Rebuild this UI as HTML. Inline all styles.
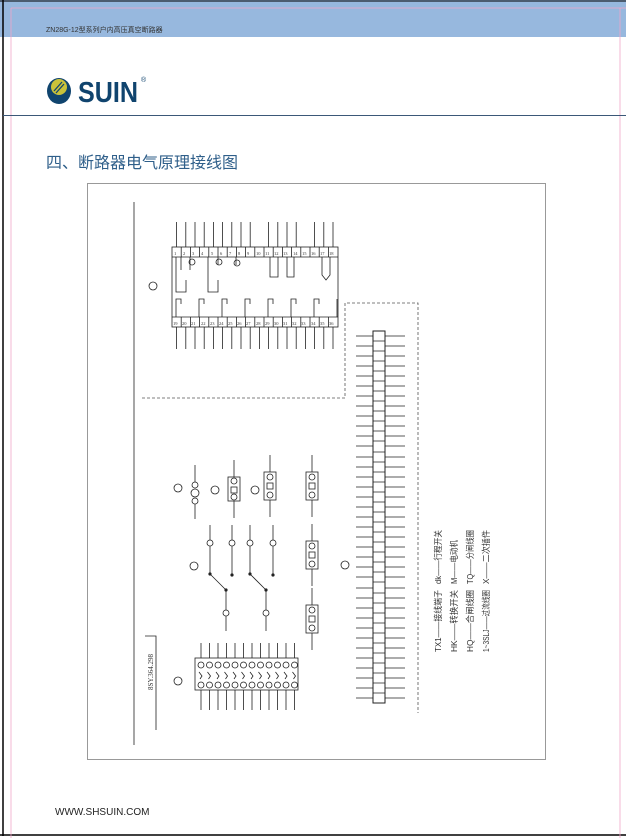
<!DOCTYPE html>
<html><head><meta charset="utf-8"><style>
html,body{margin:0;padding:0;background:#fff;}
body{width:626px;height:838px;position:relative;overflow:hidden;font-family:"Liberation Sans","Noto Sans CJK SC",sans-serif;}
</style></head><body>
<svg width="626" height="838" viewBox="0 0 626 838" xmlns="http://www.w3.org/2000/svg" style="position:absolute;left:0;top:0">
<rect x="0" y="0" width="626" height="37" fill="#97b8de"/>
<line x1="3" y1="0" x2="3" y2="836" stroke="#000" stroke-width="1.5"/>
<line x1="0" y1="835" x2="626" y2="835" stroke="#000" stroke-width="1.5"/>
<line x1="0" y1="1" x2="626" y2="1" stroke="#000" stroke-width="1"/>
<line x1="11" y1="8" x2="11" y2="838" stroke="#f0a6c8" stroke-width="0.8"/>
<line x1="620" y1="8" x2="620" y2="838" stroke="#f0a6c8" stroke-width="0.8"/>
<line x1="11" y1="8" x2="626" y2="8" stroke="#f0a6c8" stroke-width="0.8"/>
<text x="46" y="32" font-size="7" fill="#333">ZN28G-12型系列户内高压真空断路器</text>
<line x1="3" y1="115.5" x2="626" y2="115.5" stroke="#3b5878" stroke-width="1"/>
<!-- logo -->
<ellipse cx="59" cy="91" rx="12" ry="13" fill="#10446e"/>
<ellipse cx="59" cy="87" rx="8" ry="8" fill="#c9c23a"/>
<path d="M54 91 L62 82 M56 93 L64 84" stroke="#10446e" stroke-width="1.3"/>
<text x="78" y="102" font-size="29" font-weight="bold" fill="#10446e" textLength="60" lengthAdjust="spacingAndGlyphs" font-family="Liberation Sans, sans-serif">SUIN</text>
<text x="141" y="82" font-size="7" fill="#10446e">®</text>
<text x="46" y="168" font-size="16" fill="#2f5f8a">四、断路器电气原理接线图</text>
<rect x="87.5" y="183.5" width="458" height="576" fill="none" stroke="#999" stroke-width="1"/>
<g stroke="#222" fill="none" stroke-width="0.8">
<line x1="134" y1="202" x2="134" y2="745"/>
<polyline points="145,636 156,636 156,730"/>
<rect x="172" y="247" width="166" height="80"/>
<line x1="172" y1="257" x2="338" y2="257"/>
<line x1="172" y1="317" x2="338" y2="317"/>
<path d="M181.2 247v10M190.4 247v10M199.6 247v10M208.8 247v10M218 247v10M227.2 247v10M236.4 247v10M245.6 247v10M254.8 247v10M264 247v10M273.2 247v10M282.4 247v10M291.6 247v10M300.8 247v10M310 247v10M319.2 247v10M328.4 247v10"/>
<path d="M181.2 317v10M190.4 317v10M199.6 317v10M208.8 317v10M218 317v10M227.2 317v10M236.4 317v10M245.6 317v10M254.8 317v10M264 317v10M273.2 317v10M282.4 317v10M291.6 317v10M300.8 317v10M310 317v10M319.2 317v10M328.4 317v10"/>
<path d="M176.6 222v25M185.8 222v25M195 222v25M204.2 222v25M213.4 222v25M222.6 222v25M231.8 222v25M241 222v25M250.2 222v25M268.6 222v25M277.8 222v25M287 222v25M296.2 222v25M314.6 222v25M323.8 222v25M333 222v25"/>
<path d="M176.6 327v22M185.8 327v22M195 327v22M204.2 327v22M213.4 327v22M222.6 327v22M231.8 327v22M241 327v22M250.2 327v22M259.4 327v22M268.6 327v22M277.8 327v22M287 327v22M296.2 327v22M305.4 327v22M314.6 327v22M323.8 327v22M333 327v22"/>
<path d="M181 257v13M190 257v13M176 257v35h10v-12M208 257v35h10v-12M218 257v8M236 257v8"/>
<circle cx="192" cy="262" r="3"/><circle cx="219" cy="262" r="3"/><circle cx="237" cy="263" r="3"/>
<path d="M270 257v20h8v-20M287 257v20h7v-20M322 257v18l4 5 4-5v-18"/>
<path d="M176 317v-18h5v5M199 317v-18h5v5M222 317v-18h5v5M245 317v-18h5v5M268 317v-18h5v5M291 317v-18h5v5M314 317v-18h5v5M337 317v-18"/>
<circle cx="153" cy="286" r="4"/>
<path d="M142 398H345V303H418V713" stroke-dasharray="3,2" stroke="#555"/>
<rect x="373" y="331" width="12" height="372" stroke-width="1"/>
<path d="M373 341h12M373 351h12M373 361h12M373 371h12M373 381h12M373 391h12M373 401h12M373 411h12M373 421h12M373 431h12M373 441h12M373 452h12M373 462h12M373 472h12M373 482h12M373 492h12M373 502h12M373 512h12M373 522h12M373 532h12M373 542h12M373 552h12M373 562h12M373 572h12M373 582h12M373 593h12M373 603h12M373 613h12M373 623h12M373 633h12M373 643h12M373 653h12M373 663h12M373 673h12M373 683h12M373 693h12"/>
<path d="M356 336h17M356 346h17M356 356h17M356 366h17M356 376h17M356 386h17M356 396h17M356 406h17M356 416h17M356 426h17M356 436h17M356 446h17M356 457h17M356 467h17M356 477h17M356 487h17M356 497h17M356 507h17M356 517h17M356 527h17M356 537h17M356 547h17M356 557h17M356 567h17M356 577h17M356 588h17M356 598h17M356 608h17M356 618h17M356 628h17M356 638h17M356 648h17M356 658h17M356 668h17M356 678h17M356 688h17M356 698h17"/>
<path d="M385 336h20M385 346h20M385 356h20M385 366h20M385 376h20M385 386h20M385 396h20M385 406h20M385 416h20M385 426h20M385 436h20M385 446h20M385 457h20M385 467h20M385 477h20M385 487h20M385 497h20M385 507h20M385 517h20M385 527h20M385 537h20M385 547h20M385 557h20M385 567h20M385 577h20M385 588h20M385 598h20M385 608h20M385 618h20M385 628h20M385 638h20M385 648h20M385 658h20M385 668h20M385 678h20M385 688h20M385 698h20"/>
<circle cx="345" cy="565" r="4"/>
<circle cx="178" cy="488" r="4"/><circle cx="195" cy="485" r="3"/><circle cx="195" cy="493" r="4"/><circle cx="195" cy="501" r="3"/>
<path d="M195 465v17M195 504v15"/>
<circle cx="215" cy="490" r="4"/><rect x="228" y="477" width="12" height="24"/><circle cx="234" cy="481" r="3"/><rect x="231" y="487" width="6" height="6"/><circle cx="234" cy="497" r="3"/><path d="M234 460v17M234 501v17"/>
<circle cx="255" cy="490" r="4"/><rect x="264" y="472" width="12" height="28"/><circle cx="270" cy="477" r="3"/><rect x="267" y="483" width="6" height="6"/><circle cx="270" cy="495" r="3"/><path d="M270 455v17M270 500v17"/>
<rect x="306" y="472" width="12" height="28"/><circle cx="312" cy="477" r="3"/><rect x="309" y="483" width="6" height="6"/><circle cx="312" cy="495" r="3"/><path d="M312 455v17M312 500v17"/>
<rect x="306" y="541" width="12" height="28"/><circle cx="312" cy="546" r="3"/><rect x="309" y="552" width="6" height="6"/><circle cx="312" cy="564" r="3"/><path d="M312 524v17M312 569v17"/>
<rect x="306" y="605" width="12" height="28"/><circle cx="312" cy="610" r="3"/><rect x="309" y="616" width="6" height="6"/><circle cx="312" cy="628" r="3"/><path d="M312 588v17M312 633v17"/>
<circle cx="194" cy="566" r="4"/>
<circle cx="210" cy="543" r="3"/><path d="M210 546v28l16 16v20"/><circle cx="226" cy="613" r="3"/><circle cx="210" cy="574" r="1.2" fill="#222"/><circle cx="226" cy="590" r="1.2" fill="#222"/>
<circle cx="232" cy="543" r="3"/><path d="M232 546v29"/><circle cx="232" cy="575" r="1.2" fill="#222"/>
<circle cx="250" cy="543" r="3"/><path d="M250 546v28l16 16v20"/><circle cx="266" cy="613" r="3"/><circle cx="250" cy="574" r="1.2" fill="#222"/><circle cx="266" cy="590" r="1.2" fill="#222"/>
<circle cx="273" cy="543" r="3"/><path d="M273 546v29"/><circle cx="273" cy="575" r="1.2" fill="#222"/>
<path d="M210 525v15M232 525v15M250 525v15M273 525v15M226 616v15M266 616v15"/>
<rect x="195" y="658" width="103" height="32"/>
<circle cx="178" cy="681" r="4"/>
<path d="M201 643v15M209.5 643v15M218 643v15M226.5 643v15M235 643v15M243.5 643v15M252 643v15M260.5 643v15M269 643v15M277.5 643v15M286 643v15M294.5 643v15"/>
<path d="M201 690v20M209.5 690v20M218 690v20M226.5 690v20M235 690v20M243.5 690v20M252 690v20M260.5 690v20M269 690v20M277.5 690v20M286 690v20M294.5 690v20"/>
<g><circle cx="201" cy="665" r="3"/><circle cx="209.5" cy="665" r="3"/><circle cx="218" cy="665" r="3"/><circle cx="226.5" cy="665" r="3"/><circle cx="235" cy="665" r="3"/><circle cx="243.5" cy="665" r="3"/><circle cx="252" cy="665" r="3"/><circle cx="260.5" cy="665" r="3"/><circle cx="269" cy="665" r="3"/><circle cx="277.5" cy="665" r="3"/><circle cx="286" cy="665" r="3"/><circle cx="294.5" cy="665" r="3"/>
<circle cx="201" cy="685" r="3"/><circle cx="209.5" cy="685" r="3"/><circle cx="218" cy="685" r="3"/><circle cx="226.5" cy="685" r="3"/><circle cx="235" cy="685" r="3"/><circle cx="243.5" cy="685" r="3"/><circle cx="252" cy="685" r="3"/><circle cx="260.5" cy="685" r="3"/><circle cx="269" cy="685" r="3"/><circle cx="277.5" cy="685" r="3"/><circle cx="286" cy="685" r="3"/><circle cx="294.5" cy="685" r="3"/></g>
<path d="M199 672l3 4-2 3M207.5 672l3 4-2 3M216 672l3 4-2 3M224.5 672l3 4-2 3M233 672l3 4-2 3M241.5 672l3 4-2 3M250 672l3 4-2 3M258.5 672l3 4-2 3M267 672l3 4-2 3M275.5 672l3 4-2 3M284 672l3 4-2 3M292.5 672l3 4-2 3"/>
</g>
<g font-size="4.5" fill="#333" font-family="Liberation Serif, serif">
<text x="174" y="255">1</text><text x="183" y="255">2</text><text x="192" y="255">3</text><text x="201" y="255">4</text><text x="211" y="255">5</text><text x="220" y="255">6</text><text x="229" y="255">7</text><text x="238" y="255">8</text><text x="247" y="255">9</text><text x="256" y="255">10</text><text x="265" y="255">11</text><text x="274" y="255">12</text><text x="283" y="255">13</text><text x="293" y="255">14</text><text x="302" y="255">15</text><text x="311" y="255">16</text><text x="320" y="255">17</text><text x="329" y="255">18</text>
<text x="173" y="325">19</text><text x="182" y="325">20</text><text x="191" y="325">21</text><text x="201" y="325">22</text><text x="210" y="325">23</text><text x="219" y="325">24</text><text x="228" y="325">25</text><text x="237" y="325">26</text><text x="246" y="325">27</text><text x="256" y="325">28</text><text x="265" y="325">29</text><text x="274" y="325">30</text><text x="283" y="325">31</text><text x="292" y="325">32</text><text x="301" y="325">33</text><text x="311" y="325">34</text><text x="320" y="325">35</text><text x="329" y="325">36</text>
<text transform="translate(153,690) rotate(-90)" font-size="7">8SY.364.298</text>
</g>
<g font-size="8.5" fill="#333" font-family="Liberation Sans, Noto Sans CJK SC, sans-serif">
<text transform="translate(441,652) rotate(-90)" textLength="62" lengthAdjust="spacingAndGlyphs">TX1——接线端子</text>
<text transform="translate(441,584) rotate(-90)" textLength="54" lengthAdjust="spacingAndGlyphs">dk——行程开关</text>
<text transform="translate(457,652) rotate(-90)" textLength="62" lengthAdjust="spacingAndGlyphs">HK——转换开关</text>
<text transform="translate(457,584) rotate(-90)" textLength="44" lengthAdjust="spacingAndGlyphs">M——电动机</text>
<text transform="translate(473,652) rotate(-90)" textLength="62" lengthAdjust="spacingAndGlyphs">HQ——合闸线圈</text>
<text transform="translate(473,584) rotate(-90)" textLength="54" lengthAdjust="spacingAndGlyphs">TQ——分闸线圈</text>
<text transform="translate(489,652) rotate(-90)" textLength="62" lengthAdjust="spacingAndGlyphs">1~3SLJ——过流线圈</text>
<text transform="translate(489,584) rotate(-90)" textLength="54" lengthAdjust="spacingAndGlyphs">X——二次插件</text>
</g>
<text x="55" y="815" font-size="10" fill="#222">WWW.SHSUIN.COM</text>
</svg>
</body></html>
